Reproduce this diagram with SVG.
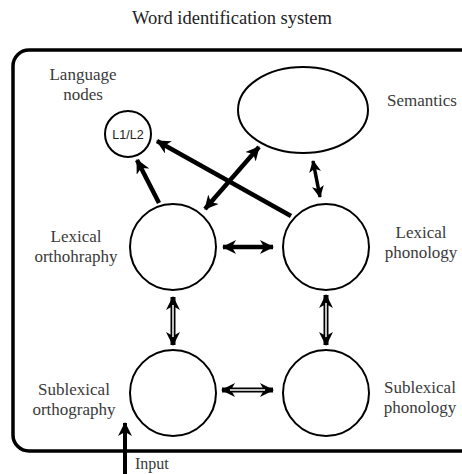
<svg xmlns="http://www.w3.org/2000/svg" width="462" height="474" viewBox="0 0 462 474">
<defs>
<marker id="ah" viewBox="0 0 14 14" refX="13" refY="7" markerWidth="14" markerHeight="14" markerUnits="userSpaceOnUse" orient="auto-start-reverse">
<path d="M0,0 L14,7 L0,14 L4,7 z" fill="#000"/>
</marker>
<marker id="ahs" viewBox="0 0 12 12" refX="11" refY="6" markerWidth="12" markerHeight="12" markerUnits="userSpaceOnUse" orient="auto-start-reverse">
<path d="M0,0 L12,6 L0,12 L3,6 z" fill="#000"/>
</marker>
</defs>
<style>
.node{fill:#fff;stroke:#000;stroke-width:2}
.lbl{font-family:"Liberation Serif","Times New Roman","DejaVu Serif",serif;font-size:17px;fill:#3a3a3a;text-anchor:middle}
.thick{stroke:#000;stroke-width:4.5;fill:none}
.dbl{stroke:#000;stroke-width:5;fill:none}
.inner{stroke:#fff;stroke-width:1.5;fill:none}
</style>
<rect width="462" height="474" fill="#fff"/>
<text x="232" y="24" class="lbl" style="font-size:18.5px;fill:#222">Word identification system</text>
<rect id="frame" x="13" y="50" width="470" height="401" rx="16" ry="16" fill="none" stroke="#000" stroke-width="3.5"/>

<g id="language-nodes">
<circle cx="128" cy="134" r="23" class="node"/>
<text x="128" y="138.5" style="font-family:'Liberation Sans',Arial,sans-serif;font-size:12.5px;fill:#222;text-anchor:middle">L1/L2</text>
<text x="83" y="80" class="lbl">Language</text>
<text x="83" y="100" class="lbl">nodes</text>
</g>
<g id="semantics">
<ellipse cx="303" cy="110" rx="65" ry="43" class="node"/>
<text x="422" y="106" class="lbl">Semantics</text>
</g>
<g id="lexical-orthography">
<circle cx="173" cy="247" r="43" class="node"/>
<text x="76" y="242" class="lbl">Lexical</text>
<text x="76" y="262" class="lbl">orthohraphy</text>
</g>
<g id="lexical-phonology">
<circle cx="326" cy="247" r="43" class="node"/>
<text x="421" y="238" class="lbl">Lexical</text>
<text x="421" y="258" class="lbl">phonology</text>
</g>
<g id="sublexical-orthography">
<circle cx="173" cy="393" r="43" class="node"/>
<text x="74" y="395" class="lbl">Sublexical</text>
<text x="74" y="415" class="lbl">orthography</text>
</g>
<g id="sublexical-phonology">
<circle cx="326" cy="393" r="43" class="node"/>
<text x="420" y="393" class="lbl">Sublexical</text>
<text x="420" y="413" class="lbl">phonology</text>
</g>

<g id="connectors">
<line x1="159" y1="203" x2="137" y2="160" class="thick" marker-end="url(#ah)"/>
<line x1="291" y1="216" x2="157" y2="141" class="thick" marker-end="url(#ah)"/>
<line x1="205" y1="209" x2="259" y2="147" class="thick" marker-start="url(#ah)" marker-end="url(#ah)"/>
<line x1="313" y1="161" x2="320" y2="197" class="thick" style="stroke-width:3.5" marker-start="url(#ahs)" marker-end="url(#ahs)"/>
<line x1="223" y1="247" x2="273" y2="247" class="thick" marker-start="url(#ah)" marker-end="url(#ah)"/>
<line x1="173" y1="297" x2="173" y2="345" class="dbl" marker-start="url(#ah)" marker-end="url(#ah)"/>
<line x1="173" y1="305" x2="173" y2="337" class="inner"/>
<line x1="326" y1="295" x2="326" y2="345" class="dbl" marker-start="url(#ah)" marker-end="url(#ah)"/>
<line x1="326" y1="303" x2="326" y2="337" class="inner"/>
<line x1="222" y1="390" x2="273" y2="390" class="dbl" marker-start="url(#ah)" marker-end="url(#ah)"/>
<line x1="230" y1="390" x2="265" y2="390" class="inner"/>
<line x1="125" y1="474" x2="125" y2="423" class="thick" style="stroke-width:4" marker-end="url(#ah)"/>
<text x="135" y="469" class="lbl" style="text-anchor:start;font-size:16px">Input</text>
</g>
</svg>
